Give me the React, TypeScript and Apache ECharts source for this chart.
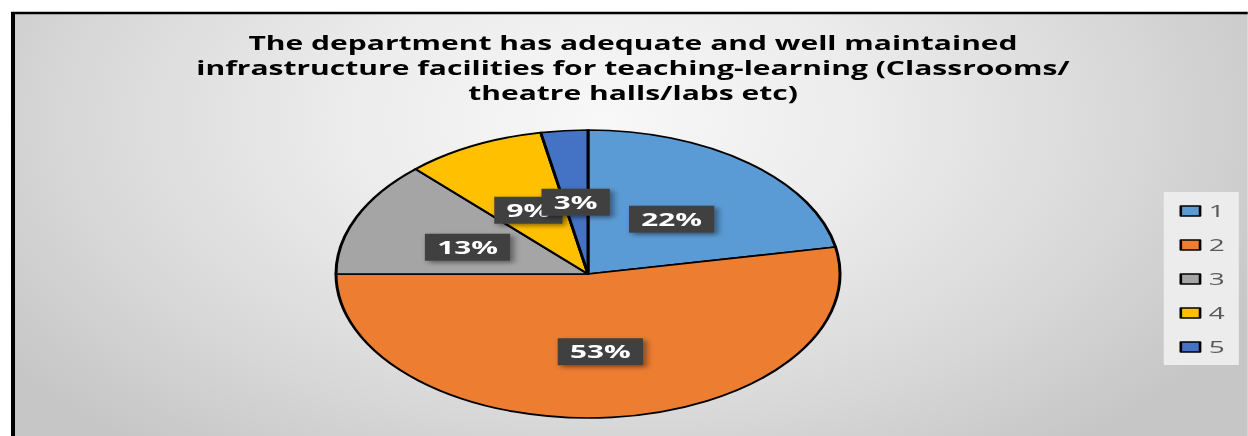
import React, { useEffect, useRef } from "react";
import * as echarts from "echarts";

const categories = ["1", "2", "3", "4", "5"];
const values = [22, 53, 13, 9, 3];
const colors = ["#5B9BD5", "#ED7D31", "#A5A5A5", "#FFC000", "#4472C4"];
const titleLines = [
  "The department has adequate and well maintained",
  "infrastructure facilities for teaching-learning (Classrooms/",
  "theatre halls/labs etc)",
];

const STRETCH = 1.75;
const W = 1248;
const H = 436;
const FONT = "'Open Sans', 'Noto Sans', sans-serif";

function measure(text: string, font: string): number {
  const c = document.createElement("canvas");
  const ctx = c.getContext("2d");
  if (!ctx) return text.length * 10;
  ctx.font = font;
  return ctx.measureText(text).width;
}

export default function App() {
  const ref = useRef<HTMLDivElement>(null);
  useEffect(() => {
    if (!ref.current) return;
    const chart = echarts.init(ref.current, undefined, { renderer: "svg" });
    const uw = W / STRETCH;
    const titleFont = `bold 20px ${FONT}`;
    const titleScale = 440 / measure(titleLines[0], titleFont);
    chart.setOption({
      animation: false,
      graphic: [
        {
          type: "rect",
          z: -10,
          silent: true,
          shape: { x: 13 / STRETCH, y: 13, width: uw + 20, height: H + 20 },
          style: {
            fill: {
              type: "radial",
              x: 345,
              y: 120,
              r: 420,
              global: true,
              colorStops: [
                { offset: 0, color: "#f8f8f8" },
                { offset: 0.35, color: "#ececec" },
                { offset: 0.7, color: "#d9d9d9" },
                { offset: 1, color: "#c6c6c6" },
              ],
            },
            stroke: "#000",
            lineWidth: 2.3,
          },
        },
        {
          type: "text",
          z: 10,
          x: 633 / STRETCH,
          y: 30,
          scaleX: titleScale,
          style: {
            text: titleLines.join("\n"),
            font: titleFont,
            fill: "#000",
            textAlign: "center",
            textVerticalAlign: "top",
            lineHeight: 25,
          },
        },
      ],
      legend: {
        data: categories,
        orient: "vertical",
        left: 665,
        top: 192,
        padding: [11, 8, 10, 9],
        backgroundColor: "#ececec",
        itemWidth: 11,
        itemHeight: 10,
        itemGap: 18,
        icon: "rect",
        itemStyle: { borderColor: "#000", borderWidth: 1.5 },
        textStyle: { fontSize: 16, color: "#595959", fontFamily: FONT },
      },
      series: [
        {
          type: "pie",
          center: [588 / STRETCH, 274],
          radius: 144,
          startAngle: 90,
          clockwise: true,
          avoidLabelOverlap: false,
          labelLayout: { hideOverlap: false },
          emphasis: { disabled: true },
          itemStyle: { borderColor: "#000", borderWidth: 1.7 },
          label: {
            show: true,
            position: "inside",
            rotate: 0,
            formatter: (p: any) => `${Math.round(p.percent)}%`,
            color: "#fff",
            fontWeight: "bold",
            fontSize: 17,
            fontFamily: FONT,
            backgroundColor: "#404040",
            padding: [6, 7, 4, 7],
            offset: [0, 3],
            shadowColor: "rgba(0,0,0,0.45)",
            shadowBlur: 4,
            shadowOffsetX: 2,
            shadowOffsetY: 2,
          },
          labelLine: { show: false },
          data: categories.map((c, i) => ({
            name: c,
            value: values[i],
            itemStyle: { color: colors[i] },
          })),
        },
      ],
    });
    return () => chart.dispose();
  }, []);
  return (
    <div
      ref={ref}
      style={{
        position: "absolute",
        left: 0,
        top: 0,
        width: `${W / STRETCH}px`,
        height: `${H}px`,
        transform: `scaleX(${STRETCH})`,
        transformOrigin: "0 0",
        background: "#fff",
      }}
    />
  );
}
